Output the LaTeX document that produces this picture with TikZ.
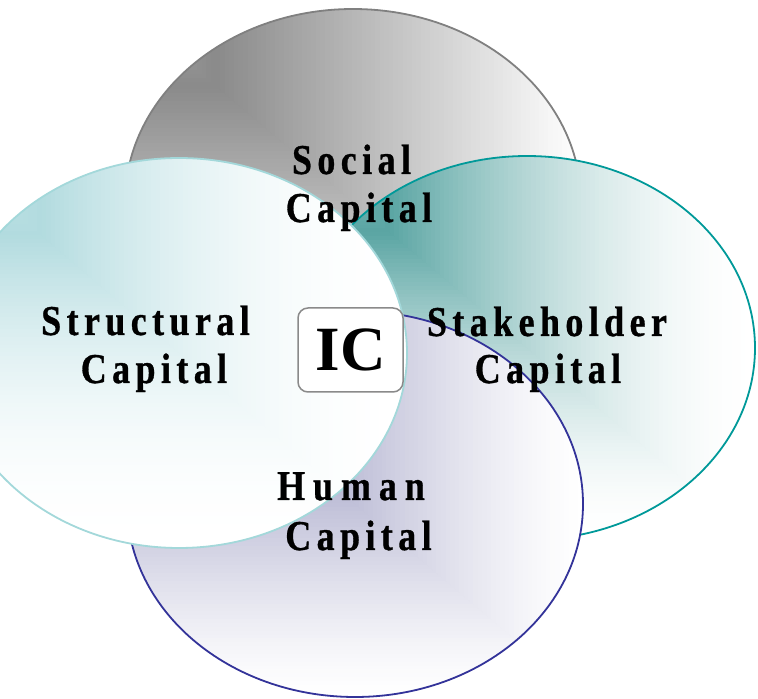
\documentclass[tikz,border=0pt]{standalone}
\usepackage{fontspec}
\usepackage{graphicx}
\newfontfamily\lblfont[LetterSpace=15,FakeBold=0.8]{Liberation Serif}
\newfontfamily\lblwide[LetterSpace=22,FakeBold=0.8]{Liberation Serif}
\newfontfamily\icfont{Liberation Serif}
\definecolor{socD}{HTML}{8A8A8A}
\definecolor{socL}{HTML}{808080}
\definecolor{stkD}{HTML}{5AA5A3}
\definecolor{stkL}{HTML}{009999}
\definecolor{humD}{HTML}{8C8CB8}
\definecolor{humL}{HTML}{333399}
\definecolor{strD}{HTML}{B2DBDF}
\definecolor{strL}{HTML}{A3D8DA}
\definecolor{icL}{HTML}{8A8A8A}
% rectangular "from top-left corner" gradient built from thin stripes
% #1 cx, #2 cy, #3 rx, #4 ry, #5 colour, #6 fall-off exponent
\newcommand\vennfill[6]{%
 \begin{scope}
  \clip (#1,#2) ellipse [x radius=#3, y radius=#4];
  \pgfmathsetmacro\gsy{2*#4/100}%
  \pgfmathsetmacro\gsx{2*#3/100}%
  \foreach \i in {0,...,99}{%
    \pgfmathsetmacro\gt{(\i+0.5)/100}%
    \pgfmathsetmacro\gm{\gt<0.2 ? 75+125*\gt : 100*(1-(\gt-0.2)/0.8)^#6}%
    \fill[#5!\gm!white] ({#1-#3},{#2+#4-\gsy*\i+0.6}) rectangle ({#1+#3},{#2+#4-\gsy*(\i+1)-0.6});
  }
  \clip ({#1-#3},{#2+#4}) -- ({#1+#3},{#2+#4}) -- ({#1+#3},{#2-#4}) -- cycle;
  \foreach \i in {0,...,99}{%
    \pgfmathsetmacro\gt{(\i+0.5)/100}%
    \pgfmathsetmacro\gm{\gt<0.2 ? 75+125*\gt : 100*(1-(\gt-0.2)/0.8)^#6}%
    \fill[#5!\gm!white] ({#1-#3+\gsx*\i-0.6},{#2-#4}) rectangle ({#1-#3+\gsx*(\i+1)+0.6},{#2+#4});
  }
 \end{scope}}
\newcommand\stretchlbl[1]{\scalebox{1}[1.18]{#1}}
\tikzset{
  lbl/.style={anchor=base, inner sep=0pt, font=\lblfont\bfseries\fontsize{36}{40}\selectfont},
  lblw/.style={anchor=base, inner sep=0pt, font=\lblwide\bfseries\fontsize{36}{40}\selectfont},
  outline/.style={line width=1.8pt},
  icbox/.style={draw=icL, line width=1.5pt, fill=white, rounded corners=10pt,
    minimum width=105pt, minimum height=84pt, inner sep=0pt,
    font=\icfont\bfseries\fontsize{63}{63}\selectfont}
}
\begin{document}
\begin{tikzpicture}[x=1pt,y=1pt]
\useasboundingbox (0,0) rectangle (758,699);
\clip (0,0) rectangle (758,699);
% Social (top)
\vennfill{353}{497}{228}{193}{socD}{1.0}
\draw[outline, socL] (353,497) ellipse [x radius=228, y radius=193];
% Stakeholder (right)
\vennfill{527}{351}{228}{192}{stkD}{1.7}
\draw[outline, stkL] (527,351) ellipse [x radius=228, y radius=192];
% Human (bottom)
\vennfill{355}{195}{228}{193}{humD}{1.3}
\draw[outline, humL] (355,195) ellipse [x radius=228, y radius=193];
% Structural (left)
\vennfill{179}{346}{228}{195}{strD}{2.0}
\draw[outline, strL] (179,346) ellipse [x radius=228, y radius=195];
% IC box
\node[icbox] (ic) at (350.5,349) {IC};
% labels
\node[lbl] (soc1) at (351.5,525) {\stretchlbl{Social}};
\node[lbl] (soc2) at (359,477) {\stretchlbl{Capital}};
\node[lbl] (str1) at (145.5,364) {\stretchlbl{Structural}};
\node[lbl] (str2) at (154,316) {\stretchlbl{Capital}};
\node[lbl] (stk1) at (547,363) {\stretchlbl{Stakeholder}};
\node[lbl] (stk2) at (548,316) {\stretchlbl{Capital}};
\node[lblw] (hum1) at (351,199) {\stretchlbl{Human}};
\node[lbl] (hum2) at (358.5,149) {\stretchlbl{Capital}};
\end{tikzpicture}
\end{document}
